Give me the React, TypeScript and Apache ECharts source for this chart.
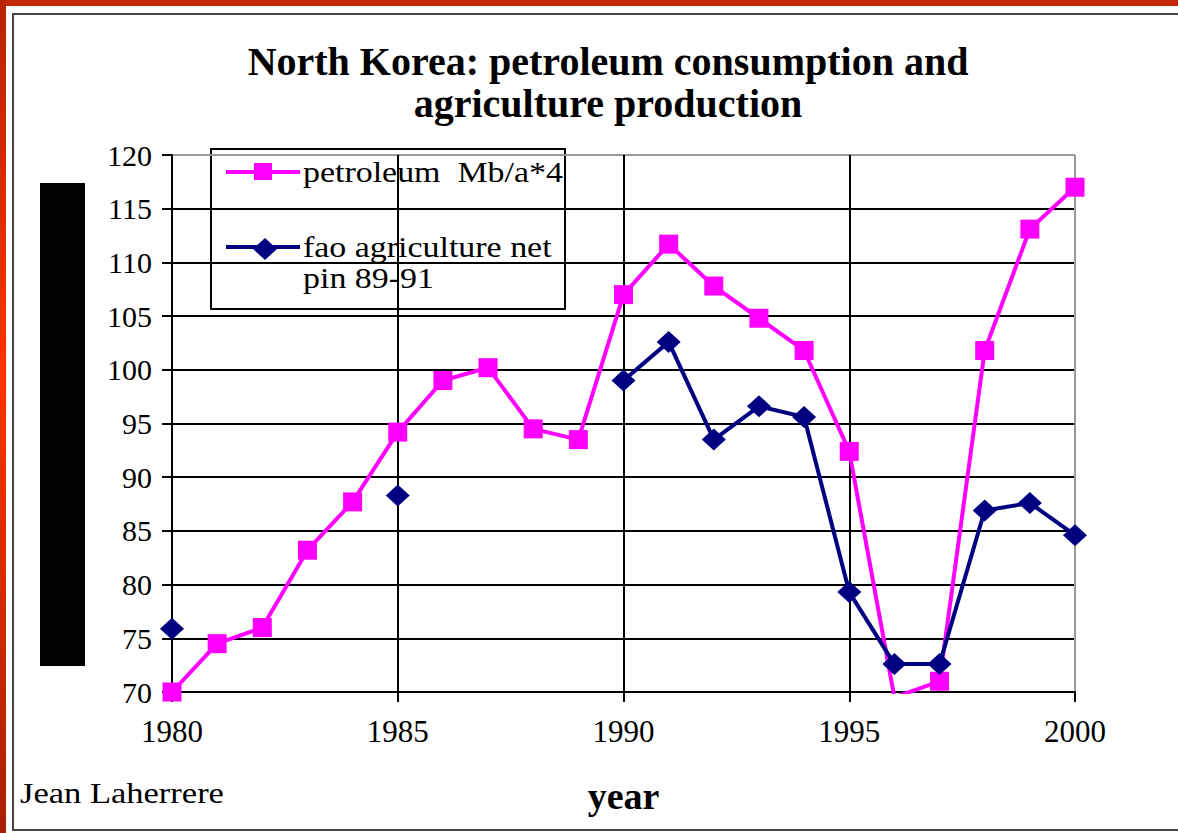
import React, { useEffect, useRef } from "react";
import * as echarts from "echarts";

const years = [1980, 1981, 1982, 1983, 1984, 1985, 1986, 1987, 1988, 1989, 1990, 1991, 1992, 1993, 1994, 1995, 1996, 1997, 1998, 1999, 2000];
const petroleum = [70.0, 74.5, 76.0, 83.2, 87.7, 94.2, 99.0, 100.2, 94.5, 93.5, 107.0, 111.7, 107.8, 104.8, 101.8, 92.4, 69.5, 71.0, 101.8, 113.1, 117.0];
const agriculture: (number | null)[] = [75.9, null, null, null, null, 88.3, null, null, null, null, 99.0, 102.6, 93.5, 96.6, 95.6, 79.3, 72.6, 72.6, 86.9, 87.6, 84.6];
const seriesNames = ["petroleum  Mb/a*4", "fao agriculture net", "pin 89-91"];
const titleLines = ["North Korea: petroleum consumption and", "agriculture production"];

const SERIF = "'Liberation Serif', 'Times New Roman', serif";
const PINK = "#FF00FF";
const NAVY = "#000080";

export default function App() {
  const ref = useRef<HTMLDivElement>(null);
  useEffect(() => {
    if (!ref.current) return;
    const chart = echarts.init(ref.current, null, { renderer: "svg" });
    const ySplit = Array.from({ length: 11 }, (_, i) => (i === 10 ? "#999999" : "#000000"));
    const xSplit = ["#000000", "#000000", "#000000", "#000000", "#999999"];
    const titleStyle = { fontFamily: SERIF, fontWeight: "bold", fontSize: 40, lineHeight: 38, color: "#000" };
    chart.setOption({
      animation: false,
      backgroundColor: "#ffffff",
      title: {
        text: titleLines[0],
        subtext: titleLines[1],
        left: 603,
        top: 37,
        itemGap: 2,
        textAlign: "center",
        textStyle: titleStyle,
        subtextStyle: titleStyle,
      },
      grid: { left: 172, right: 103, top: 155, bottom: 141, containLabel: false },
      xAxis: {
        type: "value",
        min: 1980,
        max: 2000,
        interval: 5,
        name: "year",
        nameLocation: "middle",
        nameGap: 85,
        nameTextStyle: { fontFamily: SERIF, fontWeight: "bold", fontSize: 38, color: "#000" },
        axisLine: { show: true, lineStyle: { color: "#000", width: 2 } },
        axisTick: { show: true, length: 10, lineStyle: { color: "#000", width: 2 } },
        axisLabel: { fontFamily: SERIF, fontSize: 31, color: "#000", margin: 24, formatter: (v: number) => String(v) },
        splitLine: { show: true, lineStyle: { color: xSplit, width: 2 } },
      },
      yAxis: {
        type: "value",
        min: 70,
        max: 120,
        interval: 5,
        axisLine: { show: true, lineStyle: { color: "#000", width: 2 } },
        axisTick: { show: true, length: 10, lineStyle: { color: "#000", width: 2 } },
        axisLabel: { fontFamily: SERIF, fontSize: 30, color: "#000", margin: 20 },
        splitLine: { show: true, lineStyle: { color: ySplit, width: 2 } },
      },
      series: [
        {
          name: seriesNames[0],
          type: "line",
          data: years.map((y, i) => [y, petroleum[i]]),
          symbol: "rect",
          symbolSize: 19,
          showSymbol: true,
          clip: true,
          lineStyle: { color: PINK, width: 4 },
          itemStyle: { color: PINK },
          z: 3,
        },
        {
          name: seriesNames[1],
          type: "line",
          data: years.map((y, i) => [y, agriculture[i] === null ? "-" : agriculture[i]]),
          symbol: "diamond",
          symbolSize: [24, 22],
          showSymbol: true,
          connectNulls: false,
          clip: true,
          lineStyle: { color: NAVY, width: 4 },
          itemStyle: { color: NAVY },
          z: 4,
        },
      ],
      graphic: [
        { type: "rect", z: -10, silent: true, shape: { x: 0, y: 0, width: 1178, height: 6 }, style: { fill: "#C42A08" } },
        {
          type: "rect", z: -10, silent: true, shape: { x: 0, y: 0, width: 6, height: 833 },
          style: {
            fill: new echarts.graphic.LinearGradient(0, 0, 0, 1, [
              { offset: 0, color: "#B82200" },
              { offset: 0.45, color: "#FF3300" },
              { offset: 1, color: "#A82000" },
            ]),
          },
        },
        { type: "rect", z: -5, silent: true, shape: { x: 13, y: 14, width: 1180, height: 816 }, style: { fill: "none", stroke: "#444", lineWidth: 2 } },
        { type: "rect", silent: true, shape: { x: 40, y: 183, width: 45, height: 483 }, style: { fill: "#000" } },
        { type: "text", x: 20, y: 793, scaleX: 1.19, style: { text: "Jean Laherrere", fontFamily: SERIF, fontSize: 29, fill: "#000", verticalAlign: "middle" } },
        {
          type: "group",
          z: 100,
          children: [
            { type: "rect", shape: { x: 211, y: 149, width: 354, height: 160 }, style: { fill: "#fff", stroke: "#000", lineWidth: 2 } },
            { type: "line", shape: { x1: 226, y1: 172, x2: 300, y2: 172 }, style: { stroke: PINK, lineWidth: 4 } },
            { type: "rect", shape: { x: 254, y: 163, width: 18, height: 17 }, style: { fill: PINK } },
            { type: "text", x: 303, y: 172, scaleX: 1.17, style: { text: seriesNames[0], fontFamily: SERIF, fontSize: 29, fill: "#000", verticalAlign: "middle" } },
            { type: "line", shape: { x1: 226, y1: 247, x2: 300, y2: 247 }, style: { stroke: NAVY, lineWidth: 4 } },
            { type: "polygon", shape: { points: [[265, 238], [277, 249], [265, 260], [253, 249]] }, style: { fill: NAVY } },
            { type: "text", x: 303, y: 247, scaleX: 1.17, style: { text: seriesNames[1], fontFamily: SERIF, fontSize: 29, fill: "#000", verticalAlign: "middle" } },
            { type: "text", x: 303, y: 278, scaleX: 1.17, style: { text: seriesNames[2], fontFamily: SERIF, fontSize: 29, fill: "#000", verticalAlign: "middle" } },
          ],
        },
      ],
    });
    return () => chart.dispose();
  }, []);
  return <div ref={ref} style={{ position: "fixed", left: 0, top: 0, width: 1178, height: 833 }} />;
}
